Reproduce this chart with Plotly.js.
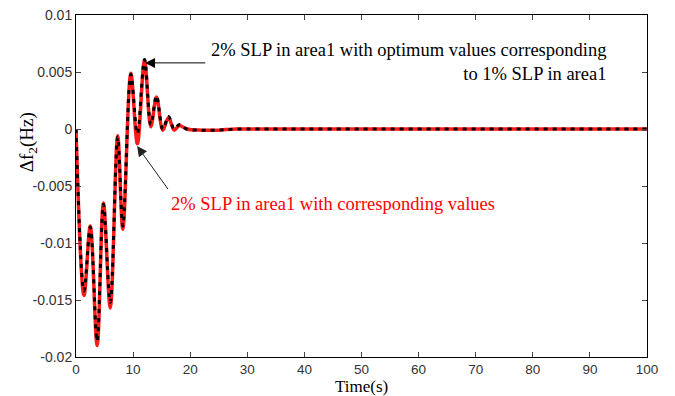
<!DOCTYPE html>
<html>
<head>
<meta charset="utf-8">
<script src="https://cdn.plot.ly/plotly-3.0.1.min.js"></script>
<style>
  html, body { margin: 0; padding: 0; background: #fff; }
  #chart { width: 675px; height: 396px; }
</style>
</head>
<body>
<div id="chart"></div>
<script>
// Frequency deviation of area 2 after a 2% step load perturbation in area 1
const timeS = [0, 1.4, 2.5, 3.7, 4.8, 6.0, 7.3, 8.2, 9.6, 10.75, 12.0, 13.1, 14.1, 15.2, 16.2, 17.2, 18.1, 19.4, 22, 25, 28, 32, 40, 50, 60, 70, 80, 90, 100];

// 2% SLP with optimum values corresponding to 1% SLP (black dashed)
const dfOptimum = [0, -0.0142, -0.0086, -0.0186, -0.0066, -0.0152, -0.0007, -0.0085, 0.0048, -0.0004, 0.0061, 0.0004, 0.0029, 0.0000, 0.0011, 0.0000, 0.0004, 0.0000, -0.0001, -0.0001, 0, 0, 0, 0, 0, 0, 0, 0, 0];

// 2% SLP with corresponding values (red)
const dfCorresponding = [0, -0.0146, -0.0085, -0.0190, -0.0065, -0.0157, -0.0006, -0.0088, 0.0049, -0.0013, 0.0060, 0.0002, 0.0028, -0.0001, 0.0010, -0.0001, 0.0003, 0.0000, -0.0001, -0.0001, 0, 0, 0, 0, 0, 0, 0, 0, 0];

const xTicks = [0, 10, 20, 30, 40, 50, 60, 70, 80, 90, 100];
const yTicks = [-0.02, -0.015, -0.01, -0.005, 0, 0.005, 0.01];
const yTickText = ['-0.02', '-0.015', '-0.01', '-0.005', '0', '0.005', '0.01'];

const traces = [
  {
    x: timeS, y: dfCorresponding, mode: 'lines', type: 'scatter',
    line: { color: '#ff1a1a', width: 3.5, shape: 'spline', smoothing: 1 },
    hoverinfo: 'skip'
  },
  {
    x: timeS, y: dfOptimum, mode: 'lines', type: 'scatter',
    line: { color: '#000000', width: 3, shape: 'spline', smoothing: 1, dash: '4px,5px' },
    hoverinfo: 'skip'
  }
];

const serif = "'Liberation Serif', 'Times New Roman', serif";
const sans = "'Liberation Sans', Arial, sans-serif";

const layout = {
  width: 675, height: 396,
  margin: { l: 76, r: 28, t: 15, b: 39 },
  paper_bgcolor: '#ffffff', plot_bgcolor: '#ffffff',
  showlegend: false,
  xaxis: {
    range: [0, 100], tickvals: xTicks, ticks: 'inside', ticklen: 5,
    showline: true, linecolor: '#000', linewidth: 1, mirror: 'ticks',
    showgrid: false, zeroline: false,
    tickfont: { family: sans, size: 13.5, color: '#333' }
  },
  yaxis: {
    range: [-0.02, 0.01], tickvals: yTicks, ticktext: yTickText, ticks: 'inside', ticklen: 5,
    showline: true, linecolor: '#000', linewidth: 1, mirror: 'ticks',
    showgrid: false, zeroline: false,
    tickfont: { family: sans, size: 14, color: '#333' }
  },
  annotations: [
    {
      xref: 'paper', yref: 'paper', x: 0.5, y: 0, yshift: -18.5,
      xanchor: 'center', yanchor: 'top', borderpad: 0,
      text: 'Time(s)', showarrow: false,
      font: { family: serif, size: 17, color: '#000' }
    },
    {
      xref: 'paper', yref: 'paper', x: 0, y: 0.628, xshift: -48,
      xanchor: 'center', yanchor: 'middle',
      text: 'Δf<sub>2</sub>(Hz)', textangle: -90, showarrow: false,
      font: { family: serif, size: 19, color: '#000' }
    },
    {
      x: 93.2, y: 0.00592, xanchor: 'right', yanchor: 'middle', align: 'right',
      text: '2% SLP in area1 with optimum values corresponding<br>to 1% SLP in area1',
      showarrow: false, font: { family: serif, size: 18.5, color: '#000' }
    },
    {
      x: 16.3, y: -0.00658, xanchor: 'left', yanchor: 'middle',
      text: '2% SLP in area1 with corresponding values',
      showarrow: false, font: { family: serif, size: 18.5, color: '#ff0000' }
    },
    {
      x: 12.1, y: 0.0058, axref: 'x', ayref: 'y', ax: 22.9, ay: 0.0058,
      text: '', showarrow: true, arrowhead: 2, arrowsize: 2, arrowwidth: 1, arrowcolor: '#000'
    },
    {
      x: 10.7, y: -0.0015, axref: 'x', ayref: 'y', ax: 16.3, ay: -0.0054,
      text: '', showarrow: true, arrowhead: 2, arrowsize: 2, arrowwidth: 1, arrowcolor: '#222'
    }
  ]
};

Plotly.newPlot('chart', traces, layout, { displayModeBar: false, staticPlot: true });
</script>
</body>
</html>
